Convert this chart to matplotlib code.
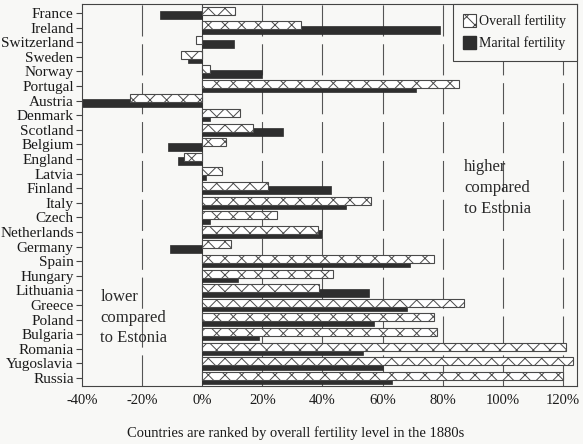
import matplotlib
matplotlib.use("Agg")
import matplotlib.pyplot as plt
from matplotlib.patches import Patch
from matplotlib.ticker import FuncFormatter

countries = ["France", "Ireland", "Switzerland", "Sweden", "Norway", "Portugal",
             "Austria", "Denmark", "Scotland", "Belgium", "England", "Latvia",
             "Finland", "Italy", "Czech", "Netherlands", "Germany", "Spain",
             "Hungary", "Lithuania", "Greece", "Poland", "Bulgaria", "Romania",
             "Yugoslavia", "Russia"]
overall = [11, 33, -2, -7, 2.7, 85.5, -24, 12.5, 17, 8, -6, 6.5, 22, 56, 25,
           38.5, 9.5, 77, 43.5, 39, 87, 77, 78, 121, 123.5, 120]
marital = [-14, 79, 10.7, -4.7, 20, 71, -42, 2.7, 27, -11.5, -8, 1.3, 43, 48,
           2.7, 40, -10.6, 69, 12, 55.5, 68, 57, 19, 53.5, 60, 63]
xticks = [-40, -20, 0, 20, 40, 60, 80, 100, 120]
xlabel = "Countries are ranked by overall fertility level in the 1880s"
legend_labels = ["Overall fertility", "Marital fertility"]

plt.rcParams['font.family'] = ['Liberation Serif', 'DejaVu Serif']
plt.rcParams['hatch.linewidth'] = 0.7
plt.rcParams['hatch.color'] = '#555555'

bg = '#f8f8f6'
txt = '#1a1a1a'
fig = plt.figure(figsize=(5.83, 4.44), dpi=100, facecolor=bg)
ax = fig.add_axes([82/583, 1-386/444, (577-82)/583, (386-4)/444])
ax.set_facecolor(bg)

ypos = list(range(len(countries)))
h = 0.55
ax.barh([y + 0.15 for y in ypos], marital, height=h, color='#2e2e2e',
        edgecolor='#2e2e2e', linewidth=0.5, zorder=2)
ax.barh([y - 0.15 for y in ypos], overall, height=h, color='white',
        edgecolor='#4a4a4a', hatch='xx', linewidth=0.8, zorder=3)

ax.set_xlim(-40, 124.7)
ax.set_ylim(25.55, -0.62)
ax.set_yticks(ypos)
ax.set_yticklabels(countries, fontsize=11, color=txt)
ax.set_xticks(xticks)
ax.xaxis.set_major_formatter(FuncFormatter(lambda v, p: f"{v:.0f}%"))
ax.tick_params(axis='x', length=0, labelsize=10.5, pad=6, labelcolor=txt)
ax.tick_params(axis='y', length=4, width=0.8, color='#444444', pad=2)

for v in xticks[1:]:
    if v == 0:
        ax.axvline(v, color='#444444', linewidth=0.8, zorder=1)
    else:
        ax.axvline(v, color='#555555', linewidth=0.8, zorder=1,
                   linestyle=(0, (28, 7)))

for s in ax.spines.values():
    s.set_color('#444444')
    s.set_linewidth(0.8)

fig.text(296/583, 1-433/444, xlabel, fontsize=10.5, color=txt,
         ha='center', va='center')

ax.text(-33.9, 20.87, "lower\ncompared\nto Estonia", fontsize=12,
        color='#2a2a2a', va='center', ha='left', linespacing=1.4, zorder=4)
ax.text(87.2, 11.97, "higher\ncompared\nto Estonia", fontsize=12,
        color='#2a2a2a', va='center', ha='left', linespacing=1.4, zorder=4)

handles = [Patch(facecolor='white', edgecolor='#444444', hatch='xx', linewidth=0.8),
           Patch(facecolor='#2e2e2e', edgecolor='#2e2e2e')]
leg = ax.legend(handles, legend_labels, loc='upper right', fontsize=10,
                borderaxespad=0, fancybox=False, framealpha=1,
                edgecolor='#444444', handlelength=0.9, handleheight=1.0,
                handletextpad=0.25, labelspacing=0.58, borderpad=0.75)
for t in leg.get_texts():
    t.set_color(txt)
leg.get_frame().set_facecolor(bg)
leg.get_frame().set_linewidth(0.8)
leg.set_zorder(5)

fig.savefig("out.png", dpi=100, facecolor=bg)
